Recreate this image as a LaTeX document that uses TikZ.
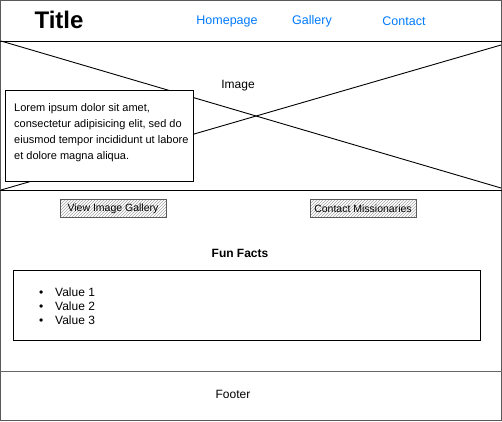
\documentclass[tikz,border=0pt]{standalone}
\usepackage{fontspec}
\setmainfont{Liberation Sans}
\usepackage{tikz}
\usetikzlibrary{patterns, positioning, calc}
\definecolor{linkblue}{rgb}{0.0, 0.48, 1.0}
\definecolor{sketchgray}{rgb}{0.35, 0.35, 0.35}

\begin{document}
\begin{tikzpicture}[x=1pt, y=-1pt, every node/.style={inner sep=0pt},
  navlink/.style={text=linkblue, font=\fontsize{12.5}{14}\selectfont},
  btnbox/.style={draw=sketchgray, line width=1pt, pattern=north east lines, pattern color=black!35,
    minimum width=106pt, minimum height=18pt, font=\fontsize{10.5}{12}\selectfont},
  plain/.style={font=\fontsize{12}{14}\selectfont}]
\useasboundingbox (0,0) rectangle (502,421);
\draw[sketchgray, line width=1pt] (0.5,0.5) rectangle (501,420.5);

\draw[black, line width=1pt] (0,41) -- (502,41);
\node[font=\fontsize{24}{26}\selectfont\bfseries] (title) at (59,20) {Title};
\node[navlink] (home) at (227,21) {Homepage};
\node[navlink] (gallery) at (312,21) {Gallery};
\node[navlink] (contact) at (404,21) {Contact};

\draw[black, line width=0.9pt] (1,41) -- (501,188);
\draw[black, line width=0.9pt] (1,190) -- (501,45);
\draw[black, line width=1pt] (0,190) -- (502,190);
\node[plain] (image) at (238,86) {Image};

\node[draw, fill=white, line width=1pt, anchor=north west, minimum width=188pt, minimum height=91pt]
  (blurbbox) at (5,90) {};
\node[below right=13pt and 9pt of blurbbox.north west, align=left, font=\fontsize{11}{16}\selectfont]
  (blurb) {Lorem ipsum dolor sit amet,\\ consectetur adipisicing elit, sed do\\ eiusmod tempor incididunt ut labore\\ et dolore magna aliqua.};

\node[btnbox] (galbtn) at (113,208.5) {View Image Gallery};
\node[btnbox] (missbtn) at (363,208.5) {Contact Missionaries};

\node[font=\fontsize{12}{14}\selectfont\bfseries] (funfacts) at (240,253) {Fun Facts};
\draw[black, line width=1pt] (13,270) rectangle (480,340);
\node[anchor=north west, align=left, font=\fontsize{12}{13.8}\selectfont] (facts) at (39,288)
  {\makebox[16pt][l]{\textbullet}Value 1\\ \makebox[16pt][l]{\textbullet}Value 2\\ \makebox[16pt][l]{\textbullet}Value 3};

\draw[black!60, line width=1pt] (0,371) -- (502,371);
\node[plain] (footer) at (233,394) {Footer};
\end{tikzpicture}
\end{document}
